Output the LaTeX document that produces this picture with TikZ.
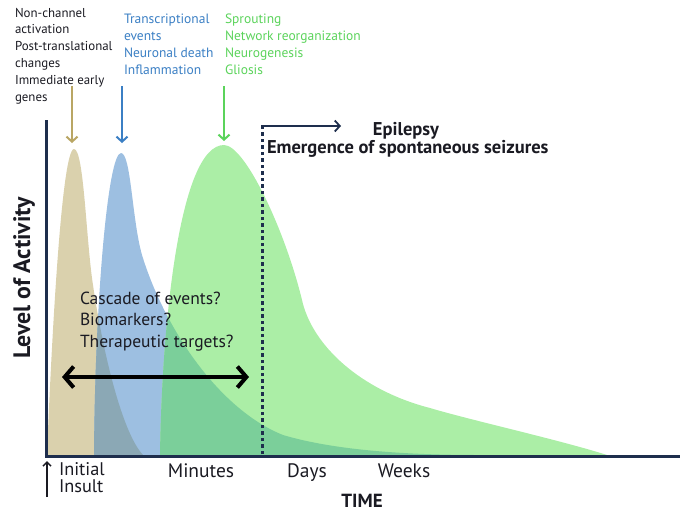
\documentclass[tikz,border=0pt]{standalone}
\usepackage{fontspec}
\setmainfont{PT Sans}
\usetikzlibrary{arrows.meta}
\definecolor{navy}{HTML}{1E2E4D}
\definecolor{tanfill}{HTML}{DAD1AD}
\definecolor{bluefill}{HTML}{9DBFE1}
\definecolor{greenfill}{HTML}{ABEEA6}
\definecolor{greyov}{HTML}{8BA8B5}
\definecolor{greenov}{HTML}{7BCF9A}
\definecolor{tanline}{HTML}{B9A664}
\definecolor{blueline}{HTML}{3B7FC4}
\definecolor{greenline}{HTML}{5BD35B}
\definecolor{ink}{HTML}{1A1A22}
\newcommand{\tanP}{(47,455) .. controls (52,330) and (62,149) .. (74,149) .. controls (84,149) and (86,240) .. (93,285) .. controls (101,340) and (120,430) .. (143,455) -- cycle}
\newcommand{\blueP}{(94,455) .. controls (95,300) and (108,153) .. (121,153) .. controls (131,153) and (132,220) .. (142,255) .. controls (165,330) and (220,410) .. (283,435) .. controls (340,452) and (420,455) .. (480,455) -- cycle}
\newcommand{\greenP}{(160,455) .. controls (162,320) and (180,145) .. (224,145) .. controls (245,145) and (285,230) .. (302,300) .. controls (312,345) and (360,390) .. (430,408) .. controls (470,420) and (560,440) .. (607,455) -- cycle}
\begin{document}
\begin{tikzpicture}[x=1pt,y=-1pt,
  lbl/.style={inner sep=0pt, outer sep=0pt, text=ink},
  toplbl/.style={lbl, anchor=north west, align=left, font=\fontsize{12.9}{16.8}\selectfont},
  collbl/.style={lbl, anchor=north west, align=left, font=\fontsize{13.5}{17}\selectfont},
  axlbl/.style={lbl, anchor=base, font=\fontsize{19.5}{20}\selectfont},
  boldlbl/.style={lbl, font=\bfseries\fontsize{18.5}{20}\selectfont},
  downarrow/.style={line width=2pt, -{Straight Barb[length=5pt,width=11pt,line width=2pt]}},
  thinarrow/.style={line width=1.5pt, -{Straight Barb[length=4pt,width=8pt,line width=1.5pt]}}]
\useasboundingbox (0,0) rectangle (700,515);
% curves
\fill[tanfill] \tanP;
\fill[bluefill] \blueP;
\fill[greenfill] \greenP;
\begin{scope}
  \clip \tanP;
  \fill[greyov] \blueP;
\end{scope}
\begin{scope}
  \clip \greenP;
  \fill[greenov] \blueP;
\end{scope}
% axes
\coordinate (ytop) at (46,120);
\coordinate (orig) at (46,456);
\coordinate (xend) at (680,456);
\draw[navy, line width=3pt] (ytop) -- (orig) -- (xend);
% seizure onset
\coordinate (dtop) at (262,126);
\coordinate (dbot) at (262,454);
\coordinate (epi) at (341,126);
\draw[navy, line width=3pt, dash pattern=on 3.5pt off 3pt] (dbot) -- (dtop);
\draw[navy, line width=1.8pt, -{Straight Barb[length=5pt,width=11pt,line width=1.8pt]}] (261,126) -- (epi);
\node[boldlbl, anchor=base] (epilepsy) at (406,135) {Epilepsy};
\node[boldlbl, anchor=base west] (emerg) at (267,153) {Emergence of spontaneous seizures};
% top labels
\node[toplbl] (t1) at (15,8) {Non-channel\\activation\\Post-translational\\changes\\Immediate early\\genes};
\node[collbl, text=blueline] (t2) at (124,13.5) {Transcriptional\\events\\Neuronal death\\Inflammation};
\node[collbl, text=greenline] (t3) at (225,13.5) {Sprouting\\Network reorganization\\Neurogenesis\\Gliosis};
% down arrows
\coordinate (a1s) at (72,86); \coordinate (a1e) at (72,143);
\coordinate (a2s) at (122,86); \coordinate (a2e) at (122,143);
\coordinate (a3s) at (224,86); \coordinate (a3e) at (224,141);
\draw[downarrow, tanline] (a1s) -- (a1e);
\draw[downarrow, blueline] (a2s) -- (a2e);
\draw[downarrow, greenline] (a3s) -- (a3e);
% y label
\node[lbl, rotate=90, font=\bfseries\fontsize{23.8}{26}\selectfont] (ylab) at (24,278) {Level of Activity};
% question text
\node[lbl, anchor=north west, align=left, font=\fontsize{17.5}{21.5}\selectfont] (q) at (80,292) {Cascade of events?\\Biomarkers?\\Therapeutic targets?};
% double arrow
\coordinate (dl) at (62,377);
\coordinate (dr) at (249,377);
\draw[line width=4pt, {Straight Barb[length=9pt,width=21pt,line width=4pt]}-{Straight Barb[length=9pt,width=21pt,line width=4pt]}] (dl) -- (dr);
% x labels
\coordinate (ins1) at (47,497); \coordinate (ins2) at (47,461);
\draw[thinarrow, ink] (ins1) -- (ins2);
\node[lbl, anchor=north west, align=left, font=\fontsize{18.3}{17}\selectfont] (initial) at (59,463) {Initial\\Insult};
\node[axlbl] (minutes) at (201,477) {Minutes};
\node[axlbl] (days) at (307,477) {Days};
\node[axlbl] (weeks) at (404,477) {Weeks};
\node[lbl, anchor=base, font=\bfseries\fontsize{19}{20}\selectfont] (time) at (362,507) {TIME};
\end{tikzpicture}
\end{document}
